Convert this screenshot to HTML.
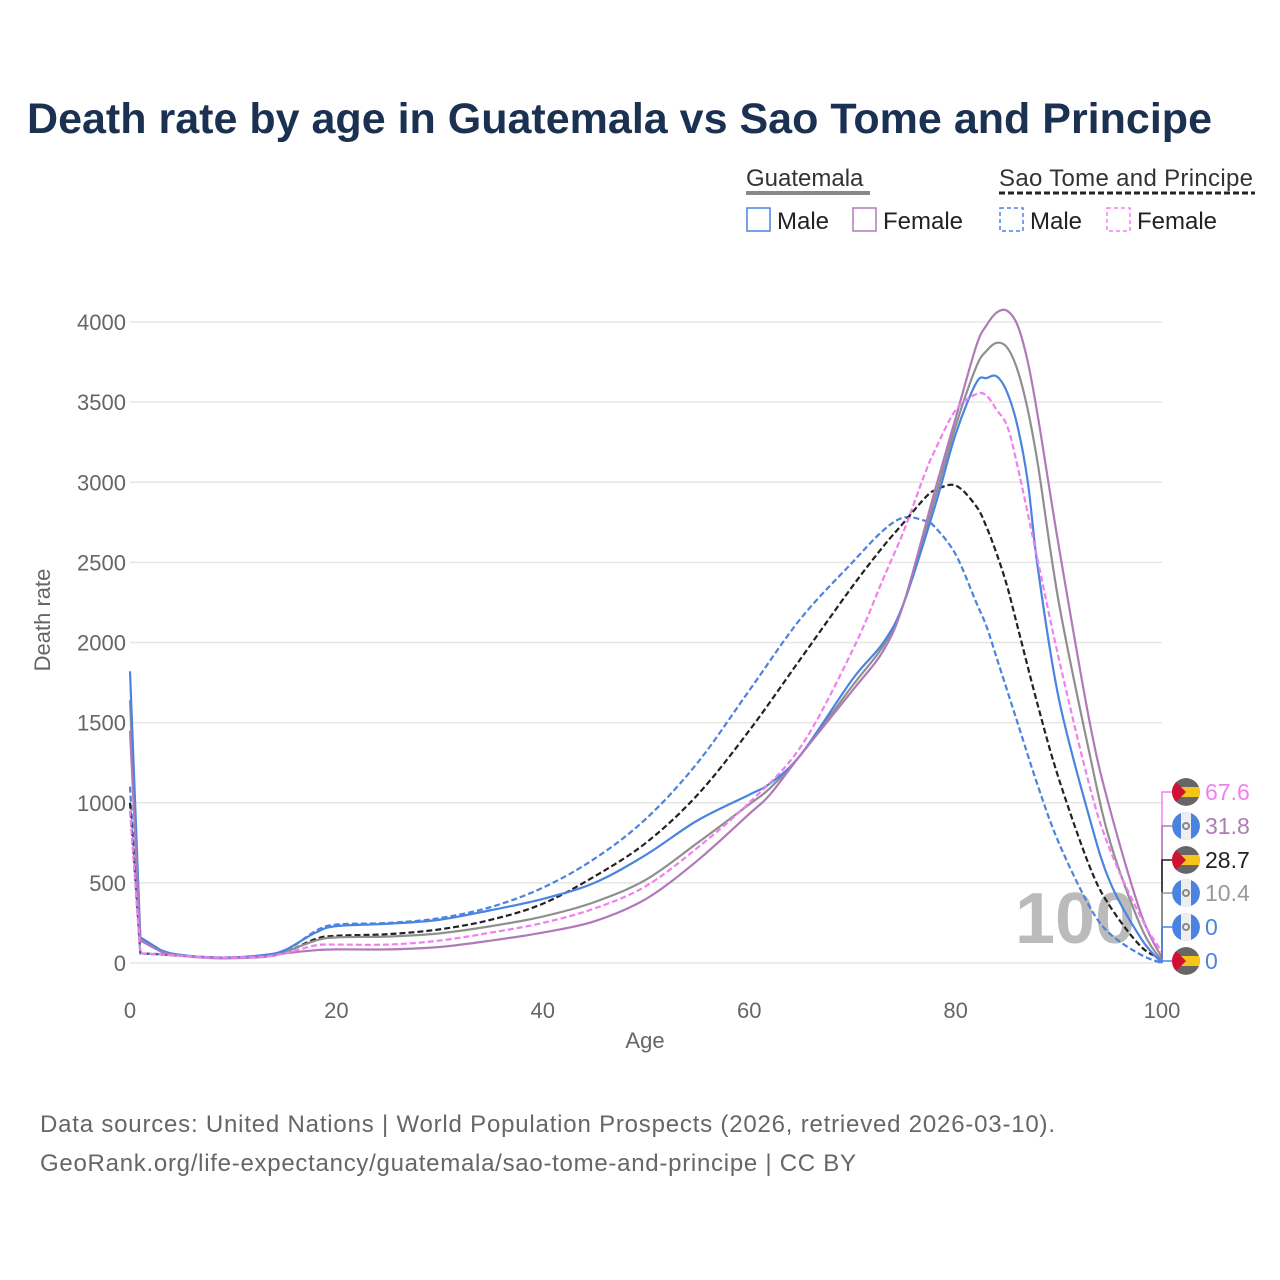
<!DOCTYPE html>
<html><head><meta charset="utf-8"><style>
body{margin:0;background:#fff;font-family:"Liberation Sans",sans-serif}
#wrap{position:relative;width:1280px;height:1280px;overflow:hidden}
</style></head><body><div id="wrap">
<svg id="svg" width="1280" height="1280" xmlns="http://www.w3.org/2000/svg">
<text x="27" y="133" font-size="43" font-weight="bold" fill="#1b3152" textLength="1185" lengthAdjust="spacingAndGlyphs">Death rate by age in Guatemala vs Sao Tome and Principe</text>
<g font-size="24" fill="#222">
<text x="746" y="186" fill="#333">Guatemala</text>
<line x1="746" y1="193" x2="870" y2="193" stroke="#888" stroke-width="4"/>
<text x="999" y="186" fill="#333" textLength="254">Sao Tome and Principe</text>
<line x1="999" y1="193" x2="1255" y2="193" stroke="#222" stroke-width="3" stroke-dasharray="6,3"/>
<g><rect x="747" y="208" width="23" height="23" fill="none" stroke="#4a84e0" stroke-width="1.5"/><text x="777" y="229">Male</text></g>
<g><rect x="853" y="208" width="23" height="23" fill="none" stroke="#b07ab8" stroke-width="1.5"/><text x="883" y="229">Female</text></g>
<g><rect x="1000" y="208" width="23" height="23" fill="none" stroke="#4a84e0" stroke-width="1.5" stroke-dasharray="4,3"/><text x="1030" y="229">Male</text></g>
<g><rect x="1107" y="208" width="23" height="23" fill="none" stroke="#f080f0" stroke-width="1.5" stroke-dasharray="4,3"/><text x="1137" y="229">Female</text></g>
</g>
<g id="grid"></g><g id="axes"></g>
<text x="1015" y="943" font-size="72" font-weight="bold" fill="#bbb">100</text>
<g id="series"></g><g id="endlabels"></g>
<text x="645" y="1048" font-size="22" fill="#666" text-anchor="middle">Age</text>
<text transform="translate(50,620) rotate(-90)" font-size="22" fill="#666" text-anchor="middle">Death rate</text>
<text x="40" y="1132" font-size="24" fill="#666" textLength="1015">Data sources: United Nations | World Population Prospects (2026, retrieved 2026-03-10).</text>
<text x="40" y="1171" font-size="24" fill="#666" textLength="816">GeoRank.org/life-expectancy/guatemala/sao-tome-and-principe | CC BY</text>
</svg></div>
<script>
const yTicks=[0,500,1000,1500,2000,2500,3000,3500,4000];
const xTicks=[0,20,40,60,80,100];
const gtAges=[0,1,3,5,8,10,13,15,18,20,25,30,35,40,45,50,55,60,62,65,70,73,75,78,80,82,83,84,85,86,87,88,90,93,95,98,100];
const gtMale=[1820,160,80,50,35,35,50,80,190,230,245,270,330,400,500,675,890,1050,1120,1300,1770,2000,2250,2850,3300,3620,3650,3660,3560,3350,3000,2450,1650,900,500,150,0];
const gtFemale=[1450,140,70,45,30,30,38,60,80,85,85,100,140,190,260,400,640,930,1050,1300,1700,1950,2250,2950,3400,3850,3980,4060,4070,3980,3750,3400,2600,1500,950,300,31.8];
const gtTotal=[1640,150,75,48,33,33,44,70,140,160,165,185,230,290,380,520,750,990,1090,1300,1730,1980,2250,2900,3350,3720,3820,3870,3840,3700,3450,3100,2250,1300,750,220,10.4];
const stpAges=[0,1,3,5,8,10,13,15,18,20,25,30,35,40,45,50,55,60,65,70,73,75,77,78,80,82,83,84,85,86,88,90,93,95,98,100];
const stpMale=[1100,60,55,45,35,35,40,70,200,240,250,280,350,470,650,900,1250,1700,2150,2500,2700,2780,2760,2720,2550,2250,2100,1900,1700,1500,1100,750,350,180,50,0];
const stpFemale=[950,60,52,45,35,35,40,60,110,115,115,140,190,250,340,480,720,1000,1350,1950,2400,2700,3050,3200,3450,3550,3540,3450,3350,3100,2500,1900,1100,700,280,67.6];
const stpTotal=[1000,60,53,45,35,35,40,65,150,170,180,210,270,370,540,750,1050,1450,1900,2350,2600,2750,2900,2950,2980,2850,2720,2550,2350,2100,1600,1150,600,350,100,28.7];
const NS="http://www.w3.org/2000/svg";
const X=a=>130+a*10.32, Y=v=>963-v*0.16025;
function mk(t,at,p){const e=document.createElementNS(NS,t);for(const k in at)e.setAttribute(k,at[k]);p.appendChild(e);return e;}
const grid=document.getElementById('grid'),axes=document.getElementById('axes');
yTicks.forEach(v=>{const l=mk('line',{x1:130,x2:1162,y1:Y(v),y2:Y(v),stroke:'#e6e6e6','stroke-width':1.5},grid);


const t=mk('text',{x:126,y:Y(v)+8,'font-size':22,fill:'#666','text-anchor':'end'},axes);t.textContent=v;

});
xTicks.forEach(v=>{const t=mk('text',{x:X(v),y:1018,'font-size':22,fill:'#666','text-anchor':'middle'},axes);t.textContent=v;

});
function path(ages,vals){const p=ages.map((a,i)=>[X(a),Y(vals[i])]);let d='M'+p[0][0]+','+p[0][1];
for(let i=0;i<p.length-1;i++){const p0=p[Math.max(0,i-1)],p1=p[i],p2=p[i+1],p3=p[Math.min(p.length-1,i+2)];
if(i<2){d+=`L${p2[0]},${p2[1]}`;continue;}
const c1=[p1[0]+(p2[0]-p0[0])/6,p1[1]+(p2[1]-p0[1])/6],c2=[p2[0]-(p3[0]-p1[0])/6,p2[1]-(p3[1]-p1[1])/6];
d+=`C${c1[0]},${c1[1]} ${c2[0]},${c2[1]} ${p2[0]},${p2[1]}`;}return d;}
const sg=document.getElementById('series');
const defs=[[stpAges,stpMale,'#4a84e0',true,'line-stp-male'],[stpAges,stpTotal,'#222',true,'line-stp-total'],
[gtAges,gtTotal,'#8f8f8f',false,'line-gt-total'],[gtAges,gtMale,'#4a84e0',false,'line-gt-male'],
[gtAges,gtFemale,'#b07ab8',false,'line-gt-female'],[stpAges,stpFemale,'#f080f0',true,'line-stp-female']];
defs.forEach(s=>{const e=mk('path',{d:path(s[0],s[1]),fill:'none',stroke:s[2],'stroke-width':2.2},sg);
if(s[3])e.setAttribute('stroke-dasharray','6,3');

});
const el=document.getElementById('endlabels');
const cp=mk('defs',{},el);
const labs=[[792,stpFemale,'#f080f0','stp'],[826,gtFemale,'#b07ab8','gt'],[860,stpTotal,'#222','stp'],[893,gtTotal,'#999','gt'],[927,gtMale,'#4a84e0','gt'],[961,stpMale,'#4a84e0','stp']];
labs.forEach((l,i)=>{const v=l[1][l[1].length-1];
mk('polyline',{points:`${1162},${Y(v)} 1162,${l[0]} 1172,${l[0]}`,fill:'none',stroke:l[2],'stroke-width':1.5},el);
const c=mk('clipPath',{id:'c'+i},cp);mk('circle',{cx:1186,cy:l[0],r:14},c);
const g=mk('g',{},el);


const f=mk('g',{'clip-path':`url(#c${i})`},g);
if(l[3]=='gt'){mk('circle',{cx:1186,cy:l[0],r:14,fill:'#4a84e0'},f);mk('rect',{x:1181,y:l[0]-14,width:10,height:28,fill:'#eee'},f);mk('circle',{cx:1186,cy:l[0],r:3,fill:'none',stroke:'#888','stroke-width':2},f);}
else{mk('circle',{cx:1186,cy:l[0],r:14,fill:'#666'},f);mk('rect',{x:1172,y:l[0]-5,width:28,height:10,fill:'#f5c518'},f);mk('polygon',{points:`1172,${l[0]-14} 1186,${l[0]} 1172,${l[0]+14}`,fill:'#d21034'},f);}
const t=mk('text',{x:1205,y:l[0]+8,'font-size':23,fill:l[2]},g);t.textContent=v;});
</script></body></html>
